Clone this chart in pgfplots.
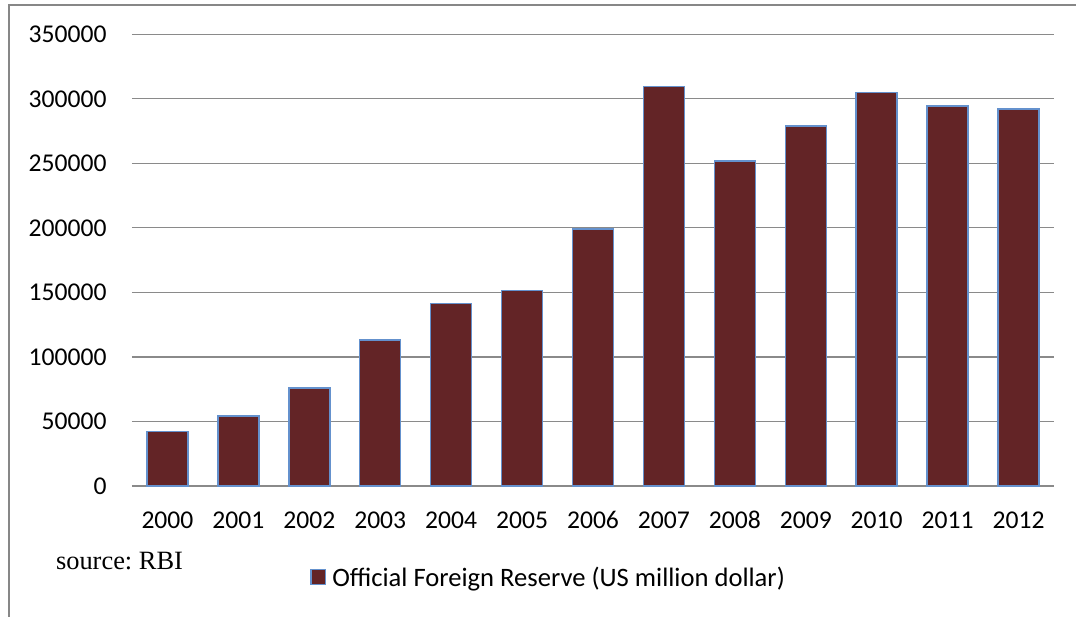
\documentclass[border=0pt]{standalone}
\usepackage{pgfplots}
\pgfplotsset{compat=1.18}
\usepackage{fontspec}
\setmainfont{Carlito}
\newfontfamily\timesf{Liberation Serif}
\definecolor{barfill}{RGB}{99,36,38}
\definecolor{barline}{RGB}{100,145,205}
\definecolor{gridgray}{RGB}{138,138,138}
\definecolor{framegray}{RGB}{135,135,135}
\frenchspacing
\begin{document}
\begin{tikzpicture}
\path[use as bounding box] (0,0) rectangle (538pt,308pt);
\draw[framegray, line width=0.7pt] (4.5pt,-2pt) -- (4.5pt,305.5pt) -- (540pt,305.5pt);
\begin{axis}[
  at={(66pt,65pt)}, anchor=south west,
  scale only axis, width=461pt, height=225.85pt,
  ybar, bar width=20.5pt,
  xmin=-0.5, xmax=12.5, ymin=0, ymax=350000,
  xtick=data,
  xticklabels={2000,2001,2002,2003,2004,2005,2006,2007,2008,2009,2010,2011,2012},
  ytick={0,50000,100000,150000,200000,250000,300000,350000},
  scaled y ticks=false,
  /pgf/number format/.cd, fixed, set thousands separator={}, assume math mode=true,
  /pgfplots/.cd,
  axis line style={draw=none},
  major tick length=0pt,
  ymajorgrids, grid style={gridgray, line width=0.6pt},
  tick label style={font=\fontsize{12.8}{14}\selectfont},
  yticklabel style={inner sep=0pt, anchor=east, xshift=-12.5pt},
  xticklabel style={inner sep=0pt, anchor=center, yshift=-17pt},
  legend style={at={(0.4507,-0.2015)}, anchor=center, draw=none, fill=none,
    font=\fontsize{13.3}{15}\selectfont, inner sep=0pt,
    nodes={inner sep=0pt, text depth=0pt}, column sep=3pt},
  legend image code/.code={\draw[#1] (0pt,-3.65pt) rectangle (7.3pt,3.65pt);},
]
\addplot[fill=barfill, draw=barline, line width=0.75pt] coordinates {
  (0,42281) (1,54106) (2,76100) (3,112959) (4,141514) (5,151622) (6,199179)
  (7,309723) (8,251985) (9,279057) (10,304818) (11,294397) (12,292046)};
\addlegendentry{Official Foreign Reserve (US million dollar)}
\end{axis}
\node[font=\timesf\fontsize{13.2}{15}\selectfont, inner sep=0pt] at (59.75pt,27.5pt) {source: RBI};
\end{tikzpicture}
\end{document}
